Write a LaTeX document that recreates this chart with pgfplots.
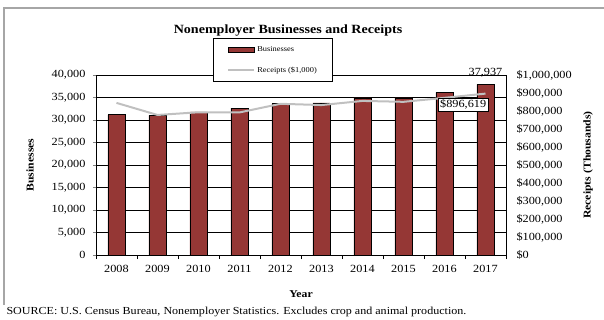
\documentclass[border=0pt]{standalone}
\usepackage{fontspec}
\setmainfont{Liberation Serif}[FakeStretch=1.12]
\usepackage{pgfplots}
\pgfplotsset{compat=1.18}
\definecolor{barred}{RGB}{149,55,53}
\definecolor{lgray}{RGB}{192,192,192}

\begin{document}
\begin{tikzpicture}
\useasboundingbox (-96bp,-65bp) rectangle (508bp,255bp);
% outer frame (top and left only show)
\draw[gray!70, line width=1.2bp] (-92bp,-50bp) -- (-92bp,247bp) -- (508bp,247bp);

\begin{axis}[
  at={(0,0)}, anchor=south west,
  scale only axis, width=410bp, height=180bp,
  clip=false,
  xmin=-0.5, xmax=9.5, ymin=0, ymax=40000,
  xtick={0,...,9},
  xticklabels={2008,2009,2010,2011,2012,2013,2014,2015,2016,2017},
  minor xtick={-0.5,0.5,...,9.5},
  major x tick style={draw=none},
  minor x tick style={black},
  minor tick length=4bp,
  ytick distance=5000,
  ymajorgrids, major grid style={black, line width=0.6bp},
  axis y line*=left, axis x line*=bottom,
  axis line style={black, line width=0.6bp},
  tick align=outside, major tick length=3bp,
  scaled y ticks=false,
  /pgf/number format/.cd, fixed, 1000 sep={,}, assume math mode=true,
  /pgfplots/.cd,
  tick label style={font=\fontsize{11}{13}\selectfont},
  yticklabel style={xshift=-4bp},
  xticklabel style={yshift=-4bp},
  ylabel={\textbf{Businesses}},
  ylabel style={font=\fontsize{10.5}{12}\selectfont, at={(axis description cs:-0.161,0.5)}, anchor=center},
  xlabel={\textbf{Year}},
  xlabel style={font=\fontsize{10.5}{12}\selectfont, at={(axis description cs:0.5,-0.217)}, anchor=center},
  legend style={at={(117bp,217bp)}, anchor=north west, draw=black, fill=white,
    font=\fontsize{7.5}{9}\selectfont, row sep=10bp, inner xsep=14bp, inner ysep=6bp,
    legend cell align=left, line width=0.6bp},
]
\addplot[ybar, bar width=17bp, fill=barred, draw=black, line width=0.8bp,
  legend image code/.code={\draw[fill=barred, draw=black, line width=0.8bp] (0bp,-2.5bp) rectangle (26bp,2.5bp);}]
  coordinates {(0,31150) (1,31050) (2,31800) (3,32650) (4,33600) (5,33800) (6,34900) (7,34900) (8,36150) (9,37937)};
\addlegendentry{Businesses}
\addlegendimage{legend image code/.code={\draw[lgray, line width=2bp] (0bp,0bp) -- (26bp,0bp);}}
\addlegendentry{Receipts (\$1,000)}
\node[anchor=base, font=\fontsize{11}{13}\selectfont, inner sep=0pt, yshift=9bp] at (axis cs:9,37937) {37,937};
\end{axis}

\begin{axis}[
  at={(0,0)}, anchor=south west,
  scale only axis, width=410bp, height=180bp,
  xmin=-0.5, xmax=9.5, ymin=0, ymax=1000000,
  axis x line=none, axis y line*=right,
  axis line style={black, line width=0.6bp},
  ytick distance=100000,
  major tick length=0bp,
  scaled y ticks=false,
  yticklabel={\$\pgfmathprintnumber[fixed, precision=0, 1000 sep={,}, assume math mode=true]{\tick}},
  tick label style={font=\fontsize{11}{13}\selectfont},
  yticklabel style={xshift=7bp},
  ylabel={\textbf{Receipts (Thousands)}},
  ylabel style={font=\fontsize{10.5}{12}\selectfont, at={(axis description cs:1.2,0.5)}, anchor=center},
]
\addplot[lgray, line width=2bp] coordinates {
  (0,845000) (1,778000) (2,793000) (3,792000) (4,840000)
  (5,833000) (6,856000) (7,851000) (8,873000) (9,896619)};
\node[anchor=north east, draw=black, fill=white, line width=0.6bp, inner sep=2bp,
  font=\fontsize{11}{13}\selectfont, xshift=3bp, yshift=-4bp] at (axis cs:9,896619) {\$896,619};
\end{axis}

\node[font=\fontsize{12.6}{15}\selectfont\bfseries] at (192bp,224bp) {Nonemployer Businesses and Receipts};
\node[anchor=west, font=\fontsize{10.8}{12}\selectfont] at (-93bp,-57bp)
  {SOURCE: U.S. Census Bureau, Nonemployer Statistics. Excludes crop and animal production.};
\end{tikzpicture}
\end{document}
